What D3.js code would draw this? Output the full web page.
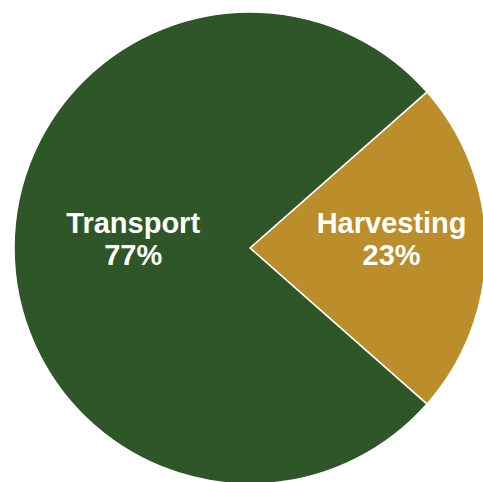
<!DOCTYPE html>
<html>
<head>
<meta charset="utf-8">
<script src="https://cdn.jsdelivr.net/npm/d3@7"></script>
<style>
  html, body { margin: 0; padding: 0; background: #ffffff; }
  svg { display: block; }
</style>
</head>
<body>
<div id="chart"></div>
<script>
// Share of total by activity
const categories = ["Harvesting", "Transport"];
const values = [23, 77];
const valueLabels = ["23%", "77%"];
const colors = ["#bb8d2b", "#2f5629"];

const width = 483, height = 482;
const cx = 250, cy = 248, radius = 236;

const svg = d3.select("#chart").append("svg")
  .attr("width", width)
  .attr("height", height);

const g = svg.append("g").attr("transform", `translate(${cx},${cy})`);

// Harvesting slice is centred on the 3 o'clock direction
const total = d3.sum(values);
const start = Math.PI / 2 - (values[0] / total) * Math.PI;

const pie = d3.pie()
  .sort(null)
  .value(d => d)
  .startAngle(start)
  .endAngle(start + 2 * Math.PI);

const arcs = pie(values);

const arc = d3.arc().innerRadius(0).outerRadius(radius);

g.selectAll("path.slice")
  .data(arcs)
  .join("path")
  .attr("class", "slice")
  .attr("d", arc)
  .attr("fill", (d, i) => colors[i])
  .attr("stroke", "#ffffff")
  .attr("stroke-width", 1.5)
  .attr("stroke-linejoin", "miter");

// label distance from the centre, as a fraction of the radius
const labelFrac = [0.6, 0.495];

const labels = g.selectAll("text.label")
  .data(arcs)
  .join("text")
  .attr("class", "label")
  .attr("transform", (d, i) => {
    const a = (d.startAngle + d.endAngle) / 2;
    const rr = radius * labelFrac[i];
    return `translate(${Math.sin(a) * rr},${-Math.cos(a) * rr})`;
  })
  .attr("text-anchor", "middle")
  .attr("fill", "#ffffff")
  .style("font-family", "'Liberation Sans', Arial, sans-serif")
  .style("font-weight", "bold")
  .style("font-size", "29px");

labels.append("tspan")
  .attr("x", 0)
  .attr("y", -15)
  .text((d, i) => categories[i]);

labels.append("tspan")
  .attr("x", 0)
  .attr("y", 17)
  .text((d, i) => valueLabels[i]);
</script>
</body>
</html>
